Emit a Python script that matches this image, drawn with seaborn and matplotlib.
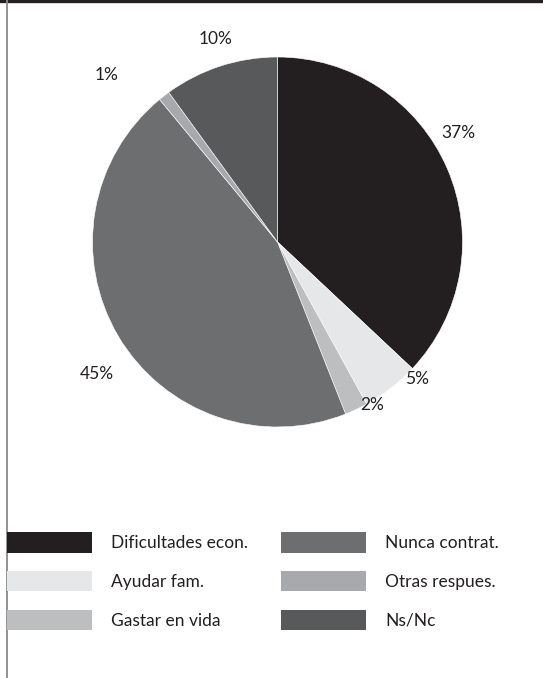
import numpy as np
import matplotlib
matplotlib.use("Agg")
import matplotlib.pyplot as plt
import seaborn as sns
from matplotlib.lines import Line2D

sns.set_theme(style="white")
plt.rcParams['font.family'] = ['Lato', 'DejaVu Sans']

# data
categories = ["Dificultades econ.", "Ayudar fam.", "Gastar en vida",
              "Nunca contrat.", "Otras respues.", "Ns/Nc"]
shares = [37, 5, 2, 45, 1, 10]
pct_labels = ["37%", "5%", "2%", "45%", "1%", "10%"]
colors = ["#231f20", "#e6e7e8", "#bcbec0", "#6d6e70", "#a7a9ac", "#58595b"]

# label placement tweaks (angle shift in deg, radius in pie units)
label_shift = [7.6, 7.7, 4.8, 5.6, 7.8, -1.0]
label_rad = [1.14, 1.06, 1.02, 1.21, 1.29, 1.15]

W, H = 543, 678
FS = 12.5
fig = plt.figure(figsize=(W / 100, H / 100), dpi=100)

# pie axes: square in pixels
cx, cy, r = 277.5, 242, 185
ax = fig.add_axes([(cx - r) / W, 1 - (cy + r) / H, 2 * r / W, 2 * r / H])
wedges, texts = ax.pie(shares, colors=colors, startangle=90, counterclock=False,
                       labels=pct_labels, labeldistance=1.1,
                       wedgeprops=dict(edgecolor="white", linewidth=0.4),
                       textprops=dict(fontsize=FS, color="#231f20"))
ax.set_xlim(-1, 1)
ax.set_ylim(-1, 1)

for w, t, sh, rr in zip(wedges, texts, label_shift, label_rad):
    ang = np.deg2rad((w.theta1 + w.theta2) / 2 + sh)
    t.set_position((rr * np.cos(ang), rr * np.sin(ang)))
    t.set_ha("center")
    t.set_va("center")

leg = fig.legend(wedges, categories, ncol=2, frameon=False,
                 loc="upper left", bbox_to_anchor=(7 / W, 1 - 532 / H),
                 borderpad=0, borderaxespad=0, fontsize=FS,
                 handlelength=4.9, handleheight=1.45, handletextpad=1.1,
                 labelspacing=1.05, columnspacing=1.9)
for h in leg.legend_handles:
    h.set_edgecolor("none")
for t in leg.get_texts():
    t.set_color("#231f20")

# frame lines of the original layout
fig.add_artist(Line2D([0, 1], [1 - 1.4 / H, 1 - 1.4 / H], transform=fig.transFigure,
                      color="#231f20", lw=2.4))
fig.add_artist(Line2D([6.5 / W, 6.5 / W], [0, 1], transform=fig.transFigure,
                      color="#8a8a8c", lw=1.3))

fig.savefig("out.png", dpi=100, facecolor="white")
